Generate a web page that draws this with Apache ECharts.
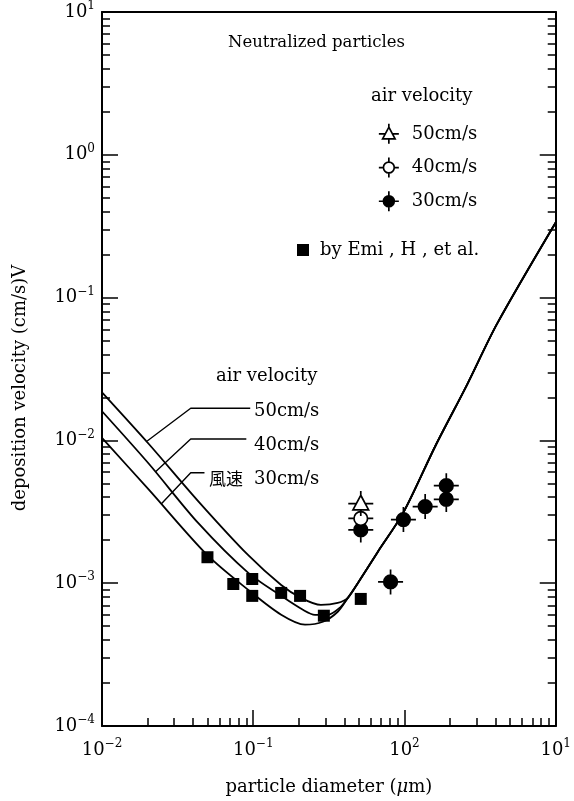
<!DOCTYPE html>
<html>
<head>
<meta charset="utf-8">
<title>Neutralized particles - deposition velocity</title>
<script src="https://cdn.jsdelivr.net/npm/echarts@6/dist/echarts.min.js"></script>
<style>
  html, body { margin: 0; padding: 0; background: #fff; }
  #chart { width: 574px; height: 801px; }
</style>
</head>
<body>
<div id="chart"></div>
<script>
// 粒径 (um) と沈着速度 (cm/s) -- 図から読み取った値

// 計算曲線 (風速別、左側の下降部分)
const curve50Left = [[0.01, 0.0217], [0.0204, 0.00944], [0.0435, 0.00373], [0.0927, 0.00157], [0.153, 0.000972], [0.207, 0.000789], [0.280, 0.000705], [0.362, 0.000727]];
const curve40Left = [[0.01, 0.0160], [0.0204, 0.00686], [0.0435, 0.00262], [0.0927, 0.00118], [0.153, 0.000815], [0.213, 0.000651], [0.256, 0.000601], [0.311, 0.000601], [0.379, 0.000683]];
const curve30Left = [[0.01, 0.0104], [0.0204, 0.00452], [0.0498, 0.00157], [0.0927, 0.000897], [0.153, 0.000601], [0.220, 0.000512], [0.289, 0.000537], [0.362, 0.000631]];
// 3本が合流した後の上昇部分
const curveRise = [[0.422, 0.000789], [0.491, 0.00100], [0.664, 0.00165], [0.984, 0.00313], [1.60, 0.00914], [2.60, 0.0247], [4.09, 0.0655], [10, 0.336]];

// 実験値
const v50Diameter = [0.514];
const v50Velocity = [0.00361];
const v40Diameter = [0.514];
const v40Velocity = [0.00284];
const v30Diameter = [0.514, 0.809, 0.984, 1.37, 1.89, 1.89];
const v30Velocity = [0.00236, 0.00102, 0.00279, 0.00344, 0.00386, 0.00482];
const emiDiameter = [0.0498, 0.0738, 0.0985, 0.0985, 0.153, 0.204, 0.293, 0.514];
const emiVelocity = [0.00152, 0.000987, 0.00107, 0.000815, 0.000855, 0.000815, 0.000592, 0.000776];

// 引出線
const leader50 = [[0.0955, 0.0168], [0.0386, 0.0168], [0.0199, 0.0099]];
const leader40 = [[0.0900, 0.01023], [0.0386, 0.01023], [0.0226, 0.00603]];
const leader30 = [[0.0476, 0.00593], [0.0386, 0.00593], [0.0248, 0.00361]];

// 目盛 (log10)
const xMin = -2, xMax = 1, yMin = -4, yMax = 1;
const xTickExps = ['−2', '−1', '2', '1'];
const yTickExps = ['1', '0', '−1', '−2', '−3', '−4'];

const FONT = 'DejaVu Serif';
const ICON_TRIANGLE = 'path://M12,0L12,4M12,18L12,24M0,12L7.7,12M16.3,12L24,12M12,4L19.5,18L4.5,18Z';
const ICON_OPEN = 'path://M12,0L12,5.5M12,18.5L12,24M0,12L5.5,12M18.5,12L24,12M5.5,12A6.5,6.5,0,1,0,18.5,12A6.5,6.5,0,1,0,5.5,12Z';
const ICON_FILLED = 'path://M12,0L12,24M0,12L24,12M5.5,12A6.5,6.5,0,1,0,18.5,12A6.5,6.5,0,1,0,5.5,12Z';

function toLog(points) {
    return points.map(p => [Math.log10(p[0]), Math.log10(p[1])]);
}

function pairLog(xs, ys) {
    return xs.map((x, i) => [Math.log10(x), Math.log10(ys[i])]);
}

function majorTicks(min, max) {
    const out = [];
    for (let v = min; v <= max; v++) out.push(v);
    return out;
}

function minorTicks(min, max) {
    const out = [];
    for (let n = min; n < max; n++) {
        for (let k = 2; k <= 9; k++) out.push(n + Math.log10(k));
    }
    return out;
}

function supLabel(exp) {
    return '{b|10}{s|' + exp + '}';
}

const labelRich = {
    b: { fontSize: 18, fontFamily: FONT, color: '#000', lineHeight: 24, verticalAlign: 'middle' },
    s: { fontSize: 12, fontFamily: FONT, color: '#000', lineHeight: 13, verticalAlign: 'top' }
};

function baseAxis(min, max, position, extra) {
    return Object.assign({
        type: 'value',
        min: min,
        max: max,
        position: position,
        splitLine: { show: false },
        axisLine: { show: false, onZero: false },
        axisTick: { show: false },
        axisLabel: { show: false }
    }, extra);
}

function tickAxis(min, max, position, values, len) {
    return baseAxis(min, max, position, {
        axisTick: { show: true, inside: true, length: len, customValues: values, lineStyle: { color: '#000', width: 1.5 } }
    });
}

function textItem(x, y, text, size, family) {
    return { type: 'text', x: x, y: y, style: { text: text, fontSize: size, fontFamily: family || FONT, fill: '#000', verticalAlign: 'middle' } };
}

function buildChart() {
    const chart = echarts.init(document.getElementById('chart'));

    const lineStyle = { color: '#000', width: 1.8 };
    const curveSeries = [curve50Left, curve40Left, curve30Left].map(c => ({
        type: 'line',
        data: toLog(c.concat(curveRise)),
        smooth: 0.3,
        showSymbol: false,
        silent: true,
        lineStyle: lineStyle,
        z: 2
    }));
    const leaderSeries = [leader50, leader40, leader30].map(l => ({
        type: 'line',
        data: toLog(l),
        showSymbol: false,
        silent: true,
        lineStyle: { color: '#000', width: 1.4 },
        z: 2
    }));

    const markerStyle = (fill) => ({ color: fill, borderColor: '#000', borderWidth: 1.7, opacity: 1 });

    const option = {
        backgroundColor: '#fff',
        animation: false,
        grid: { left: 102, right: 17, top: 12, bottom: 69 },
        xAxis: [
            baseAxis(xMin, xMax, 'bottom', {
                axisLine: { show: true, onZero: false, lineStyle: { color: '#000', width: 2 } },
                axisTick: { show: true, inside: true, length: 16, customValues: majorTicks(xMin, xMax), lineStyle: { color: '#000', width: 1.5 } },
                axisLabel: {
                    show: true,
                    margin: 12,
                    customValues: majorTicks(xMin, xMax),
                    formatter: v => supLabel(xTickExps[Math.round(v - xMin)]),
                    rich: labelRich
                },
                name: 'particle diameter ({i|μ}m)',
                nameLocation: 'middle',
                nameGap: 52,
                nameTextStyle: {
                    fontSize: 18, fontFamily: FONT, color: '#000',
                    rich: { i: { fontSize: 18, fontFamily: FONT, fontStyle: 'italic', color: '#000' } }
                }
            }),
            tickAxis(xMin, xMax, 'bottom', minorTicks(xMin, xMax), 8),
            baseAxis(xMin, xMax, 'top', {
                axisLine: { show: true, onZero: false, lineStyle: { color: '#000', width: 2 } }
            })
        ],
        yAxis: [
            baseAxis(yMin, yMax, 'left', {
                axisLine: { show: true, onZero: false, lineStyle: { color: '#000', width: 2 } },
                axisTick: { show: true, inside: true, length: 16, customValues: majorTicks(yMin, yMax), lineStyle: { color: '#000', width: 1.5 } },
                axisLabel: {
                    show: true,
                    margin: 7,
                    customValues: majorTicks(yMin, yMax),
                    formatter: v => supLabel(yTickExps[Math.round(yMax - v)]),
                    rich: labelRich
                }
            }),
            tickAxis(yMin, yMax, 'left', minorTicks(yMin, yMax), 8),
            baseAxis(yMin, yMax, 'right', {
                axisLine: { show: true, onZero: false, lineStyle: { color: '#000', width: 2 } },
                axisTick: { show: true, inside: true, length: 16, customValues: majorTicks(yMin, yMax), lineStyle: { color: '#000', width: 1.5 } }
            }),
            tickAxis(yMin, yMax, 'right', minorTicks(yMin, yMax), 8)
        ],
        legend: [
            {
                orient: 'vertical',
                left: 373,
                top: 118,
                itemWidth: 20,
                itemHeight: 20,
                itemGap: 12,
                selectedMode: false,
                textStyle: { fontSize: 18, fontFamily: FONT, color: '#000', padding: [0, 0, 0, 8] },
                data: [
                    { name: '50cm/s', icon: ICON_TRIANGLE, itemStyle: markerStyle('#fff') },
                    { name: '40cm/s', icon: ICON_OPEN, itemStyle: markerStyle('#fff') },
                    { name: '30cm/s', icon: ICON_FILLED, itemStyle: markerStyle('#000') }
                ]
            },
            {
                left: 292,
                top: 236,
                itemWidth: 12,
                itemHeight: 12,
                selectedMode: false,
                textStyle: { fontSize: 18, fontFamily: FONT, color: '#000', padding: [0, 0, 0, 6] },
                data: [{ name: 'by Emi , H , et al.', icon: 'rect', itemStyle: { color: '#000', borderWidth: 0, opacity: 1 } }]
            }
        ],
        graphic: [
            // 縦軸タイトル
            {
                type: 'text', x: 20, y: 388, rotation: Math.PI / 2,
                style: { text: 'deposition velocity (cm/s)V', fontSize: 18, fontFamily: FONT, fill: '#000', align: 'center', verticalAlign: 'middle' }
            },
            textItem(228, 43, 'Neutralized particles', 16.5),
            textItem(371, 96, 'air velocity', 18),
            textItem(216, 376, 'air velocity', 18),
            textItem(254, 411, '50cm/s', 18),
            textItem(254, 445, '40cm/s', 18),
            textItem(209, 479, '風速', 17, 'Noto Sans CJK JP'),
            textItem(254, 479, '30cm/s', 18)
        ],
        series: curveSeries.concat(leaderSeries, [
            {
                name: 'by Emi , H , et al.',
                type: 'scatter',
                symbol: 'rect',
                symbolSize: 12,
                itemStyle: { color: '#000', opacity: 1 },
                data: pairLog(emiDiameter, emiVelocity),
                z: 3
            },
            {
                name: '30cm/s',
                type: 'scatter',
                symbol: ICON_FILLED,
                symbolSize: 25,
                itemStyle: markerStyle('#000'),
                data: pairLog(v30Diameter, v30Velocity),
                z: 4
            },
            {
                name: '40cm/s',
                type: 'scatter',
                symbol: ICON_OPEN,
                symbolSize: 25,
                itemStyle: markerStyle('#fff'),
                data: pairLog(v40Diameter, v40Velocity),
                z: 5
            },
            {
                name: '50cm/s',
                type: 'scatter',
                symbol: ICON_TRIANGLE,
                symbolSize: 25,
                itemStyle: markerStyle('#fff'),
                data: pairLog(v50Diameter, v50Velocity),
                z: 6
            }
        ])
    };

    chart.setOption(option);
}

document.addEventListener('DOMContentLoaded', buildChart);
</script>
</body>
</html>
